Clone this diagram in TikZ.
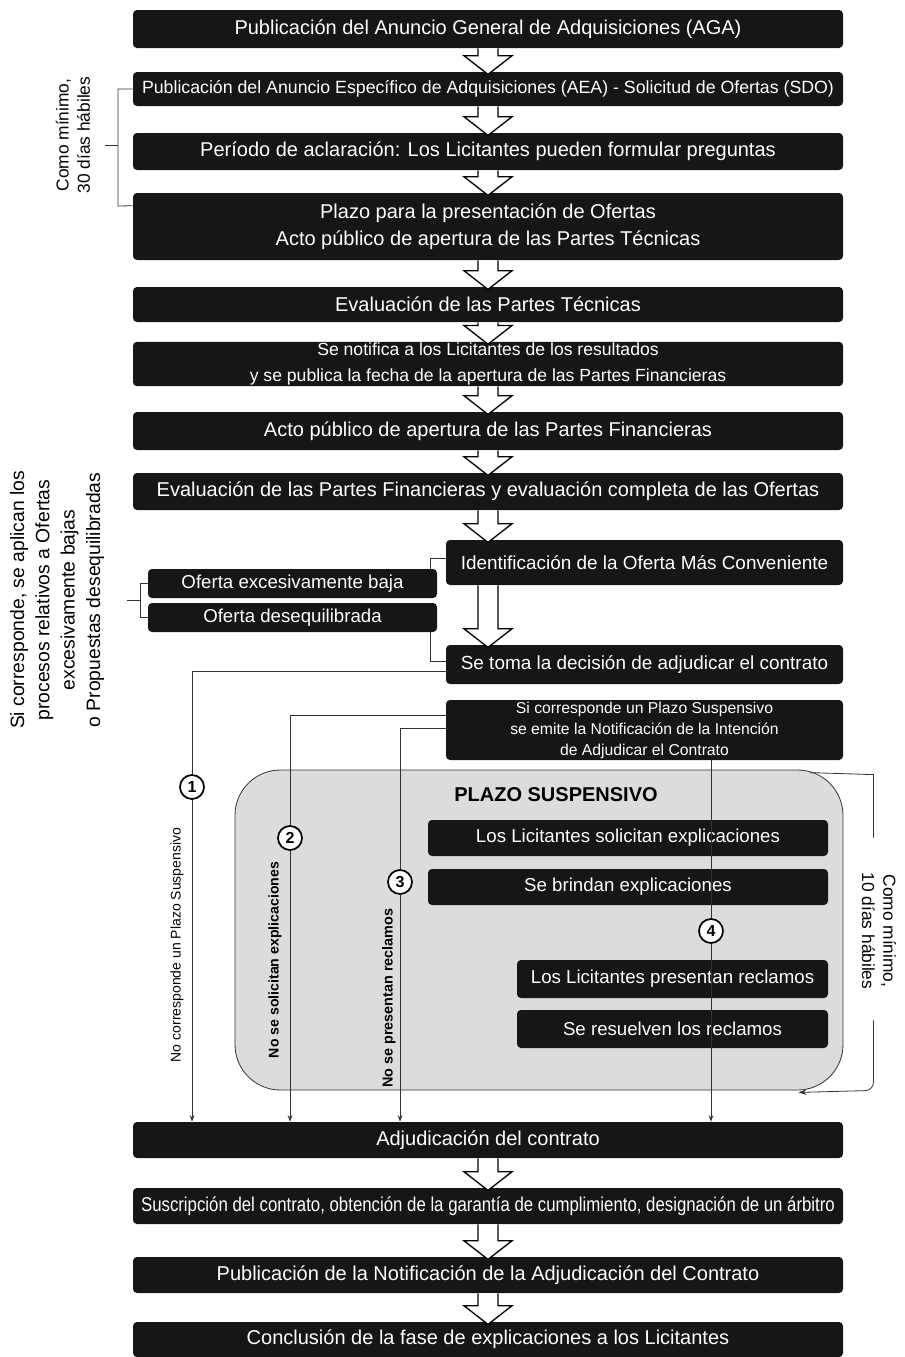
\documentclass[tikz,border=0pt]{standalone}
\usepackage{fontspec}
\setmainfont{Liberation Sans}
\newfontfamily\narrowsans[FakeStretch=0.84]{Liberation Sans}
\usetikzlibrary{positioning,calc,arrows.meta}

\definecolor{boxblack}{HTML}{161616}
\definecolor{regiongray}{HTML}{DCDCDC}
\definecolor{linegray}{HTML}{333333}

\tikzset{
  etapa/.style={fill=boxblack, text=white, rounded corners=3pt, align=center,
    inner sep=1pt, minimum width=532.5pt, font=\fontsize{15}{20}\selectfont},
  subetapa/.style={etapa, minimum width=297.75pt, font=\fontsize{14.2}{18}\selectfont},
  suspetapa/.style={etapa, minimum width=300pt, font=\fontsize{14}{18}\selectfont},
  reclamo/.style={etapa, minimum width=233.25pt, font=\fontsize{14}{18}\selectfont},
  oferta/.style={etapa, minimum width=216.75pt, minimum height=21.75pt, font=\fontsize{14}{16}\selectfont},
  zona/.style={fill=regiongray, draw=linegray, line width=0.6pt, rounded corners=34pt},
  conector/.style={draw=linegray, line width=0.7pt},
  llegada/.style={conector, -{Stealth[length=5pt,width=3.5pt]}},
  llave/.style={draw=linegray, line width=0.6pt},
  numero/.style={circle, draw=black, fill=white, line width=1.3pt, inner sep=0pt,
    minimum size=18pt, font=\bfseries\fontsize{12}{12}\selectfont},
  nota/.style={align=center, font=\fontsize{13}{16}\selectfont},
  via/.style={font=\fontsize{10.5}{12}\selectfont}
}

% hollow block arrow between two stages of the main column
\newcommand{\hollowarrow}[2]{%
  \draw[line width=1pt, fill=white, line join=miter]
    let \p1=(#1.south -| aga.south), \p2=(#2.north -| aga.south) in
    (\x1-7.5pt,\y1) -- (\x1-7.5pt,\y2+12pt) -- (\x1-18pt,\y2+12pt)
    -- (\x1,\y2-2pt) -- (\x1+18pt,\y2+12pt) -- (\x1+7.5pt,\y2+12pt)
    -- (\x1+7.5pt,\y1);
}

\begin{document}
\begin{tikzpicture}[x=0.75pt,y=-0.75pt]
\useasboundingbox (0,0) rectangle (905,1357);

% suspensive period area
\node[zona, minimum width=456pt, minimum height=240pt] (plazosus) at (539,930) {};

% main column
\node[etapa, minimum height=28.5pt] (aga) at (488,29) {Publicación del Anuncio General de Adquisiciones (AGA)};
\node[etapa, minimum height=25.5pt, font=\fontsize{13.3}{15}\selectfont] (aea) at (488,89) {Publicación del Anuncio Específico de Adquisiciones (AEA) - Solicitud de Ofertas (SDO)};
\node[etapa, minimum height=27.75pt] (aclar) at (488,151.5) {Período de aclaración: Los Licitantes pueden formular preguntas};
\node[etapa, minimum height=50.25pt] (ofertas) at (488,226.5) {Plazo para la presentación de Ofertas\\Acto público de apertura de las Partes Técnicas};
\node[etapa, minimum height=26.25pt] (evaltec) at (488,304.5) {Evaluación de las Partes Técnicas};
\node[etapa, minimum height=31.5pt, font=\fontsize{13.2}{19}\selectfont] (notif) at (488,364) {Se notifica a los Licitantes de los resultados\\y se publica la fecha de la apertura de las Partes Financieras};
\node[etapa, minimum height=28.5pt] (actofin) at (488,431) {Acto público de apertura de las Partes Financieras};
\node[etapa, minimum height=27.75pt] (evalfin) at (488,491.5) {Evaluación de las Partes Financieras y evaluación completa de las Ofertas};

\node[subetapa, minimum height=33.75pt] (ident) at (644.5,562.5) {Identificación de la Oferta Más Conveniente};
\node[oferta] (baja) at (292.5,583.5) {Oferta excesivamente baja};
\node[oferta] (deseq) at (292.5,617.5) {Oferta desequilibrada};
\node[subetapa, minimum height=29.25pt] (decide) at (644.5,664.5) {Se toma la decisión de adjudicar el contrato};
\node[subetapa, minimum height=45pt, font=\fontsize{11.8}{15.75}\selectfont] (intencion) at (644.5,730) {Si corresponde un Plazo Suspensivo\\se emite la Notificación de la Intención\\de Adjudicar el Contrato};

% inside the suspensive period
\node[font=\bfseries\fontsize{15}{17}\selectfont] (titsus) at (556,795) {PLAZO SUSPENSIVO};
\node[suspetapa, minimum height=27pt] (solic) at (628,838) {Los Licitantes solicitan explicaciones};
\node[suspetapa, minimum height=27pt] (brind) at (628,887) {Se brindan explicaciones};
\node[reclamo, minimum height=28.5pt] (presrec) at (672.5,979) {Los Licitantes presentan reclamos};
\node[reclamo, minimum height=28.5pt] (resrec) at (672.5,1029) {Se resuelven los reclamos};

\node[etapa, minimum height=27pt] (adjud) at (488,1140) {Adjudicación del contrato};
\node[etapa, minimum height=27pt, font=\narrowsans\fontsize{15}{17}\selectfont] (suscr) at (488,1206) {Suscripción del contrato, obtención de la garantía de cumplimiento, designación de un árbitro};
\node[etapa, minimum height=27pt] (pubnot) at (488,1275) {Publicación de la Notificación de la Adjudicación del Contrato};
\node[etapa, minimum height=26.25pt] (concl) at (488,1339.5) {Conclusión de la fase de explicaciones a los Licitantes};

% hollow arrows
\hollowarrow{aga}{aea}
\hollowarrow{aea}{aclar}
\hollowarrow{aclar}{ofertas}
\hollowarrow{ofertas}{evaltec}
\hollowarrow{evaltec}{notif}
\hollowarrow{notif}{actofin}
\hollowarrow{actofin}{evalfin}
\hollowarrow{evalfin}{ident}
\hollowarrow{ident}{decide}
\hollowarrow{adjud}{suscr}
\hollowarrow{suscr}{pubnot}
\hollowarrow{pubnot}{concl}

% side notes and brackets
\node[nota, rotate=90] (min30) at (73,135) {Como mínimo,\\30 días hábiles};
\draw[llave] (aea.west) -- (118,89) -- (118,206) -- ([yshift=-9.75pt]ofertas.north west);
\draw[llave] (118,145) -- (105,145);

\node[nota, rotate=90, font=\fontsize{14.5}{19}\selectfont] (procesos) at (57,600)
  {Si corresponde, se aplican los\\procesos relativos a Ofertas\\excesivamente bajas\\o Propuestas desequilibradas};
\draw[llave] (baja.west) -- (140,583.5) -- (140,617.5) -- (deseq.west);
\draw[llave] (140,600) -- (127,600);
\draw[llave] ([yshift=3pt]ident.west) -| ($(baja.north east)+(-7,0)$);
\draw[llave] ($(deseq.south east)+(-7,0)$) |- ([yshift=2pt]decide.west);

\node[nota, rotate=-90] (min10) at (879,931) {Como mínimo,\\10 días hábiles};
\draw[llave] ($(plazosus.north east)+(-33,3)$) -- ($(plazosus.north east)+(30,5)$) -- ++(0,63);
\draw[llave, rounded corners=6pt, -{Stealth[length=6pt,width=4pt]}]
  ($(plazosus.south east)+(30,-70)$) -- ($(plazosus.south east)+(30,0)$) -- ($(plazosus.south east)+(-45,2)$);

% routes to the award
\node[numero] (c1) at (192,787) {1};
\node[numero] (c2) at (290,838) {2};
\node[numero] (c3) at (400,882) {3};
\node[numero] (c4) at (711,931) {4};

\draw[conector] ([yshift=-5pt]decide.west) -| (c1);
\draw[llegada] (c1) -- (c1 |- adjud.north);
\draw[conector] ([yshift=-12pt]intencion.north west) -| (c2);
\draw[llegada] (c2) -- (c2 |- adjud.north);
\draw[conector] ([yshift=-21.75pt]intencion.north west) -| (c3);
\draw[llegada] (c3) -- (c3 |- adjud.north);
\draw[conector] (c4 |- intencion.south) -- (c4);
\draw[llegada] (c4) -- (c4 |- adjud.north);

\node[via, rotate=90] (via1) at (177,945) {No corresponde un Plazo Suspensivo};
\node[via, rotate=90, font=\bfseries\fontsize{10.6}{12}\selectfont] (via2) at (275,960) {No se solicitan explicaciones};
\node[via, rotate=90, font=\bfseries\fontsize{10.8}{12}\selectfont] (via3) at (389,998) {No se presentan reclamos};
\end{tikzpicture}
\end{document}
